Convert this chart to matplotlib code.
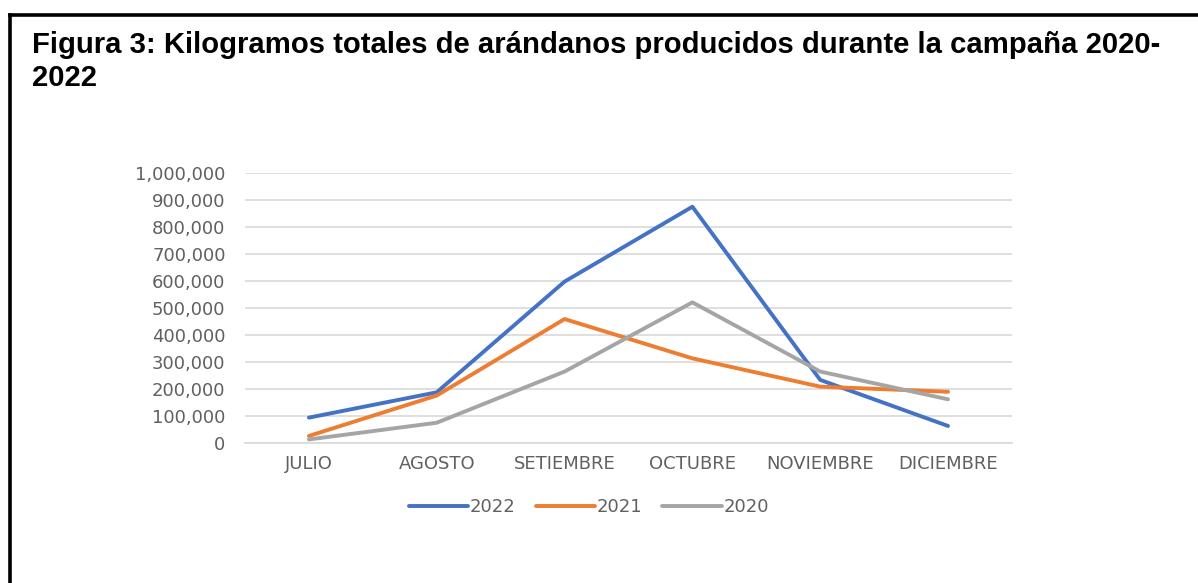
import matplotlib
matplotlib.use("Agg")
import matplotlib.pyplot as plt
from matplotlib.lines import Line2D
from matplotlib.ticker import FuncFormatter

meses = ["JULIO", "AGOSTO", "SETIEMBRE", "OCTUBRE", "NOVIEMBRE", "DICIEMBRE"]
kg_2022 = [93000, 187000, 598000, 876000, 233000, 62000]
kg_2021 = [25000, 175000, 459000, 313000, 208000, 189000]
kg_2020 = [12000, 74000, 264000, 521000, 264000, 161000]
series = [("2022", kg_2022, "#4472C4"),
          ("2021", kg_2021, "#ED7D31"),
          ("2020", kg_2020, "#A5A5A5")]

fig = plt.figure(figsize=(11.98, 5.83), dpi=100)
ax = fig.add_axes([0.2045, 0.2407, 0.6402, 0.462])

x = range(len(meses))
for name, vals, color in series:
    ax.plot(x, vals, color=color, lw=2.8, label=name, solid_capstyle="round")

ax.set_xlim(-0.5, len(meses) - 0.5)
ax.set_ylim(0, 1000000)
ax.set_yticks(range(0, 1000001, 100000))
ax.yaxis.set_major_formatter(FuncFormatter(lambda v, p: f"{int(v):,}"))
ax.set_xticks(list(x))
ax.set_xticklabels(meses)

ax.grid(axis="y", color="#D9D9D9", lw=1.2)
ax.set_axisbelow(True)
for s in ["top", "right", "left"]:
    ax.spines[s].set_visible(False)
ax.spines["bottom"].set_color("#D9D9D9")
ax.spines["bottom"].set_linewidth(1.2)
ax.tick_params(length=0, labelsize=13, labelcolor="#606060")
ax.tick_params(axis="x", pad=9)
ax.tick_params(axis="y", pad=14)
for lab in ax.get_xticklabels() + ax.get_yticklabels():
    lab.set_fontfamily("DejaVu Sans")

leg = fig.legend(loc="center", bbox_to_anchor=(589 / 1198, 1 - 507 / 583), ncol=3,
                 frameon=False, handlelength=3.3, handletextpad=0.1, columnspacing=1.1,
                 prop={"family": "DejaVu Sans", "size": 13})
for t in leg.get_texts():
    t.set_color("#606060")

titulo = ["Figura 3: Kilogramos totales de arándanos producidos durante la campaña 2020-",
          "2022"]
for i, linea in enumerate(titulo):
    fig.text(31.7 / 1198, 1 - (53.3 + 32.7 * i) / 583, linea,
             fontsize=21.1, fontweight="bold", family="Liberation Sans",
             ha="left", va="baseline")

# marco negro
fig.add_artist(Line2D([9.5 / 1198, 1.0], [1 - 14.7 / 583] * 2, color="black", lw=2.6,
                      transform=fig.transFigure))
fig.add_artist(Line2D([9.5 / 1198] * 2, [0.0, 1 - 14.7 / 583], color="black", lw=2.6,
                      transform=fig.transFigure))

fig.savefig("out.png", dpi=100)
